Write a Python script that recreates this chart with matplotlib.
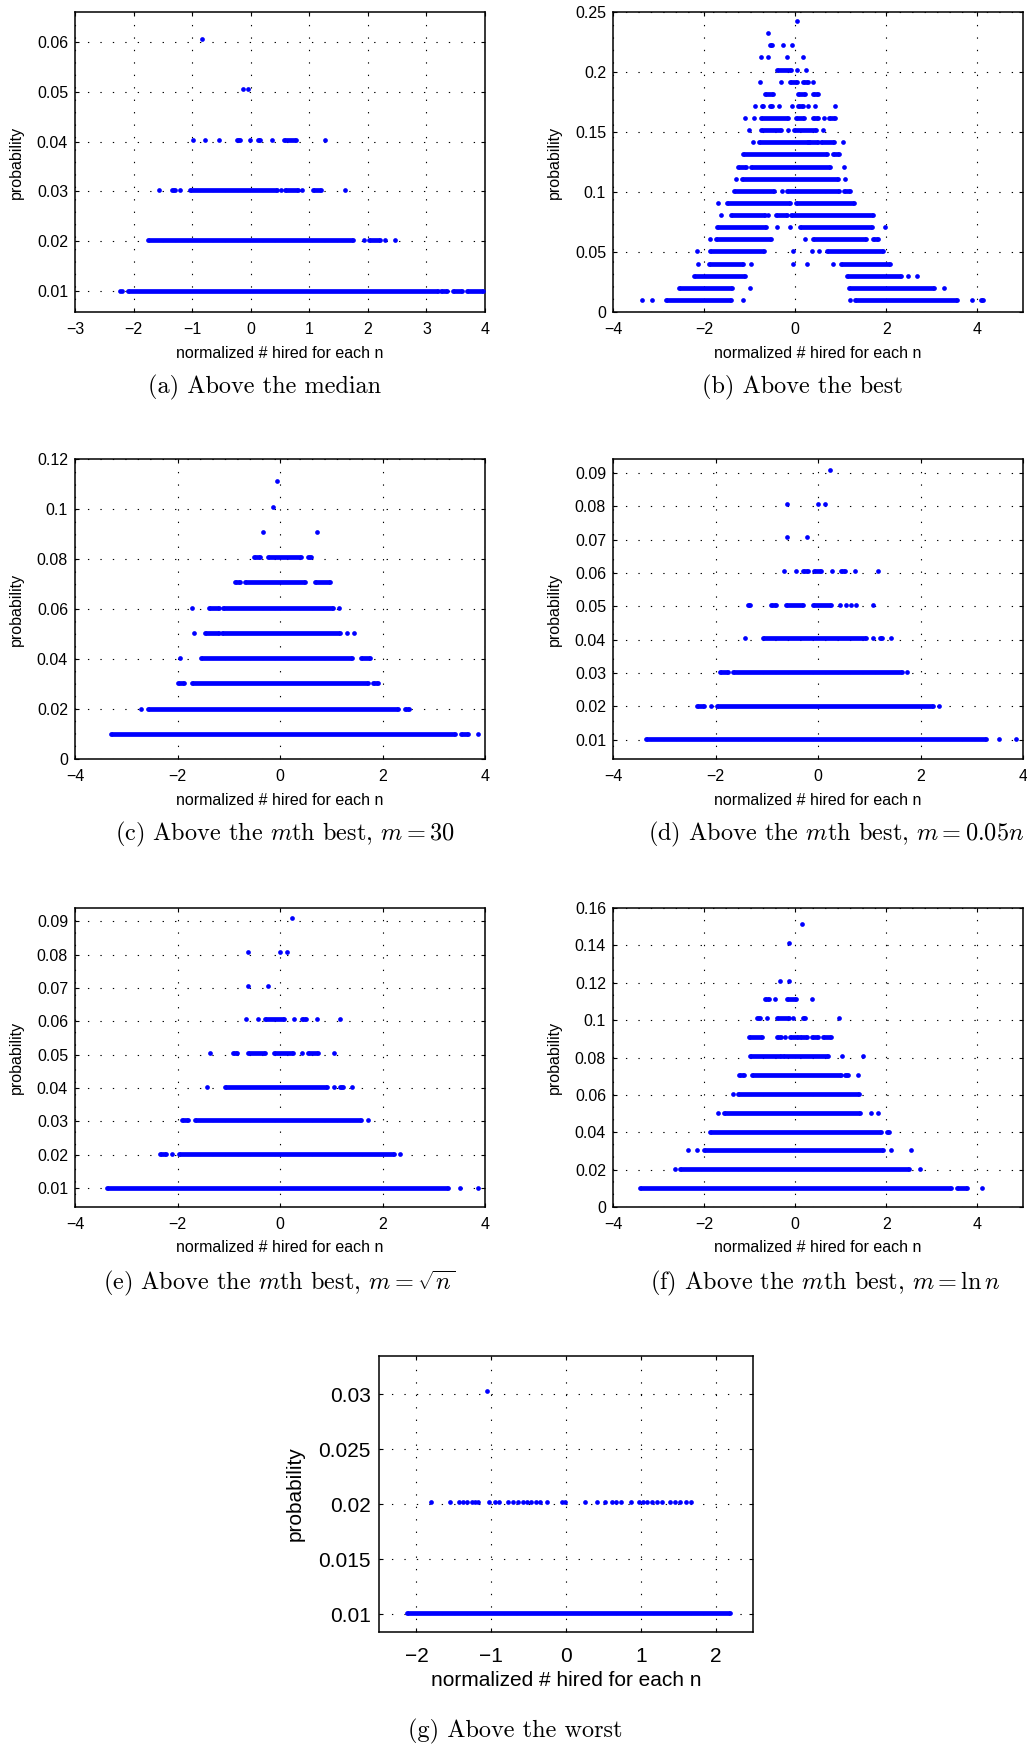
import matplotlib
matplotlib.use("Agg")
import matplotlib.pyplot as plt

plt.rcParams["mathtext.fontset"] = "cm"
plt.rcParams["font.family"] = ["Liberation Sans", "DejaVu Sans"]

BLUE = "#0000ff"
DOT_PT = 3.4          # dot diameter in points
FIG_W, FIG_H = 1027, 1744

# Each row: (probability, entries); an entry is a single x value or a
# (start, end) run of densely packed points at that probability.
median_rows = [
    (0.0101, [-2.24, -2.2, (-2.1, 3.2), (3.25, 3.35), (3.45, 3.6), (3.7, 3.97)]),
    (0.0202, [(-1.75, 1.75), 1.93, (2.02, 2.2), 2.3, 2.46]),
    (0.0303, [-1.56, (-1.35, -1.29), -1.2, (-1.03, 0.45), 0.52, (0.58, 0.8), 0.88,
              (1.07, 1.2), 1.61]),
    (0.0404, [-0.98, -0.775, -0.535, (-0.23, -0.18), -0.02, (0.13, 0.16), 0.37,
              (0.57, 0.78), 1.27]),
    (0.0505, [-0.125, -0.04]),
    (0.0606, [-0.83]),
]

best_rows = [
    (0.0101, [-3.36, -3.14, (-2.84, -1.41), -1.15, 1.21, (1.31, 3.55), 3.88, (4.07, 4.13)]),
    (0.0202, [(-2.56, -1.38), -0.99, (1.19, 3.04), 3.27]),
    (0.0303, [(-2.22, -1.11), (1.13, 2.32), 2.47, 2.67]),
    (0.0404, [-2.14, (-1.9, -1.14), -0.97, -0.04, 0.26, 0.84, (1.0, 2.07)]),
    (0.0505, [-2.15, (-1.88, -0.68), -0.04, 0.36, 0.53, (0.69, 1.92)]),
    (0.0606, [-1.88, (-1.74, -0.53), 0.22, (0.4, 1.55), (1.7, 1.81)]),
    (0.0707, [(-1.71, -0.65), -0.4, -0.11, (0.1, 1.68), 1.96]),
    (0.0808, [-1.63, (-1.41, -0.67), -0.59, (-0.42, -0.17), (-0.1, 1.7)]),
    (0.0909, [-1.69, (-1.5, -0.11), (0.02, 1.28)]),
    (0.1010, [(-1.34, -0.46), -0.29, (-0.17, 0.97), (1.08, 1.2)]),
    (0.1111, [-1.3, (-1.16, 0.93), 1.1]),
    (0.1212, [(-1.25, -1.08), (-0.97, 0.77), 1.08]),
    (0.1313, [(-1.15, 0.7), (0.84, 0.95)]),
    (0.1414, [-0.92, (-0.8, 0.27), (0.31, 0.49), (0.56, 0.86), 1.05]),
    (0.1515, [-1.01, (-0.75, -0.31), -0.15, (-0.02, 0.45), 0.6]),
    (0.1616, [-1.1, -0.9, (-0.75, -0.15), (0.01, 0.2), (0.39, 0.49), 0.64, (0.75, 0.87)]),
    (0.1717, [-0.89, (-0.72, -0.7), (-0.56, -0.5), -0.35, -0.07, (0.05, 0.18), 0.29,
              0.44, 0.87]),
    (0.1818, [(-0.67, -0.48), (0.06, 0.21), (0.38, 0.49)]),
    (0.1919, [-0.78, -0.31, (-0.12, 0.04), (0.17, 0.27), 0.4]),
    (0.2020, [(-0.39, -0.1), 0.04, 0.23]),
    (0.2121, [-0.75, -0.59, -0.17, 0.17]),
    (0.2222, [(-0.56, -0.5), -0.27, -0.07]),
    (0.2323, [-0.59]),
    (0.2424, [0.03]),
]

m30_rows = [
    (0.0101, [(-3.3, 3.41), (3.53, 3.66), 3.86]),
    (0.0202, [-2.71, (-2.57, 2.31), (2.44, 2.52)]),
    (0.0303, [(-2.0, -1.87), (-1.72, 1.71), (1.82, 1.92)]),
    (0.0404, [-1.96, (-1.55, 1.41), (1.58, 1.76)]),
    (0.0505, [-1.67, (-1.46, -1.2), (-1.14, 1.18), 1.31, 1.44]),
    (0.0606, [-1.72, (-1.39, -1.2), (-1.12, 1.04), 1.16]),
    (0.0707, [(-0.87, -0.79), (-0.68, 0.49), (0.68, 0.98)]),
    (0.0808, [(-0.51, -0.4), (-0.23, 0.41), (0.55, 0.6)]),
    (0.0909, [-0.33, 0.72]),
    (0.1010, [-0.14]),
    (0.1111, [-0.05]),
]

m5pct_rows = [
    (0.0101, [(-3.36, 3.28), 3.53, 3.87]),
    (0.0202, [(-2.36, -2.22), -2.09, (-1.98, 2.24), 2.36]),
    (0.0303, [(-1.92, -1.76), (-1.66, 1.63), 1.74]),
    (0.0404, [-1.42, (-1.07, 0.94), 1.07, (1.2, 1.24), 1.42]),
    (0.0505, [(-1.37, -1.33), (-0.91, -0.81), (-0.62, -0.29), (-0.1, 0.26), 0.42, 0.55,
              0.65, 0.75, 1.07]),
    (0.0606, [-0.66, -0.42, (-0.29, -0.2), (-0.07, 0.05), 0.28, (0.44, 0.52), 0.73, 1.18]),
    (0.0707, [-0.6, -0.21]),
    (0.0808, [-0.6, 0.0, 0.14]),
    (0.0909, [0.23]),
]

msqrt_rows = [
    (0.0101, [(-3.37, 3.27), 3.51, 3.86]),
    (0.0202, [(-2.35, -2.23), -2.11, (-1.98, 2.22), 2.35]),
    (0.0303, [(-1.92, -1.79), (-1.66, 1.59), 1.72]),
    (0.0404, [-1.42, (-1.07, 0.92), 1.06, (1.17, 1.22), 1.4]),
    (0.0505, [-1.37, (-0.92, -0.83), (-0.62, -0.29), (-0.12, 0.26), 0.42, (0.55, 0.75), 1.06]),
    (0.0606, [-0.67, -0.42, (-0.29, 0.07), 0.28, (0.42, 0.51), 0.73, 1.17]),
    (0.0707, [-0.62, -0.23]),
    (0.0808, [-0.62, 0.0, 0.13]),
    (0.0909, [0.23]),
]

mlog_rows = [
    (0.0101, [(-3.4, 3.41), (3.56, 3.76), 4.11]),
    (0.0202, [-2.65, (-2.52, 2.49), 2.74]),
    (0.0303, [-2.36, -2.15, (-2.01, 1.92), 2.1, 2.55]),
    (0.0404, [(-1.86, 1.88), (2.01, 2.05)]),
    (0.0505, [-1.69, (-1.57, 1.42), 1.67, 1.82]),
    (0.0606, [-1.37, (-1.25, 1.4)]),
    (0.0707, [(-1.23, -1.12), (-0.94, 1.0), (1.1, 1.15), 1.37]),
    (0.0808, [(-0.99, -0.31), (-0.26, 0.71), 1.02, 1.48]),
    (0.0909, [(-1.02, -0.74), (-0.41, -0.31), -0.23, (-0.11, 0.05), (0.11, 0.25),
              (0.36, 0.5), (0.6, 0.78)]),
    (0.1010, [(-0.84, -0.77), -0.61, (-0.41, -0.13), -0.04, (0.16, 0.21), 0.97]),
    (0.1111, [(-0.67, -0.57), -0.44, (-0.18, 0.01), 0.37]),
    (0.1212, [-0.34, -0.13]),
    (0.1414, [-0.13]),
    (0.1515, [0.146]),
]

worst_rows = [
    (0.0101, [(-2.12, 2.19)]),
    (0.0202, [-1.81, -1.545, -1.43, -1.376, -1.32, -1.26, -1.22, -1.17, -1.033, -0.953,
              -0.895, -0.775, -0.708, -0.641, -0.575, -0.521, -0.462, -0.405, -0.351,
              -0.25, -0.05, -0.02, 0.26, 0.41, 0.52, 0.615, 0.673, 0.74, 0.87, 0.972,
              1.03, 1.088, 1.15, 1.216, 1.283, 1.386, 1.452, 1.519, 1.608, 1.675]),
    (0.0303, [-1.06]),
]

captions = [
    "(a) Above the median",
    "(b) Above the best",
    "(c) Above the $m$th best, $m = 30$",
    "(d) Above the $m$th best, $m = 0.05n$",
    "(e) Above the $m$th best, $m = \\sqrt{n}$",
    "(f) Above the $m$th best, $m = \\ln n$",
    "(g) Above the worst",
]

# Axis settings per panel: x ticks, x limits, y ticks, y tick labels, y limits
panels = [
    dict(rows=median_rows, box=(75, 12, 485, 312),
         xticks=[-3, -2, -1, 0, 1, 2, 3, 4], xlim=(-3, 4),
         yticks=[0.01, 0.02, 0.03, 0.04, 0.05, 0.06],
         ylabels=["0.01", "0.02", "0.03", "0.04", "0.05", "0.06"], ylim=(0.0058, 0.066),
         cap=(265, 387)),
    dict(rows=best_rows, box=(613, 12, 1023, 312),
         xticks=[-4, -2, 0, 2, 4], xlim=(-4, 5),
         yticks=[0, 0.05, 0.1, 0.15, 0.2, 0.25],
         ylabels=["0", "0.05", "0.1", "0.15", "0.2", "0.25"], ylim=(0, 0.25),
         cap=(802, 387)),
    dict(rows=m30_rows, box=(75, 459, 485, 759),
         xticks=[-4, -2, 0, 2, 4], xlim=(-4, 4),
         yticks=[0, 0.02, 0.04, 0.06, 0.08, 0.1, 0.12],
         ylabels=["0", "0.02", "0.04", "0.06", "0.08", "0.1", "0.12"], ylim=(0, 0.12),
         cap=(285, 834)),
    dict(rows=m5pct_rows, box=(613, 459, 1023, 759),
         xticks=[-4, -2, 0, 2, 4], xlim=(-4, 4),
         yticks=[0.01, 0.02, 0.03, 0.04, 0.05, 0.06, 0.07, 0.08, 0.09],
         ylabels=["0.01", "0.02", "0.03", "0.04", "0.05", "0.06", "0.07", "0.08", "0.09"],
         ylim=(0.0042, 0.0942), cap=(836, 834)),
    dict(rows=msqrt_rows, box=(75, 908, 485, 1207),
         xticks=[-4, -2, 0, 2, 4], xlim=(-4, 4),
         yticks=[0.01, 0.02, 0.03, 0.04, 0.05, 0.06, 0.07, 0.08, 0.09],
         ylabels=["0.01", "0.02", "0.03", "0.04", "0.05", "0.06", "0.07", "0.08", "0.09"],
         ylim=(0.0043, 0.094), cap=(279, 1283)),
    dict(rows=mlog_rows, box=(613, 908, 1023, 1207),
         xticks=[-4, -2, 0, 2, 4], xlim=(-4, 5),
         yticks=[0, 0.02, 0.04, 0.06, 0.08, 0.1, 0.12, 0.14, 0.16],
         ylabels=["0", "0.02", "0.04", "0.06", "0.08", "0.1", "0.12", "0.14", "0.16"],
         ylim=(0, 0.16), cap=(825, 1283)),
    dict(rows=worst_rows, box=(379, 1356, 753, 1632),
         xticks=[-2, -1, 0, 1, 2], xlim=(-2.5, 2.5),
         yticks=[0.01, 0.015, 0.02, 0.025, 0.03],
         ylabels=["0.01", "0.015", "0.02", "0.025", "0.03"], ylim=(0.0084, 0.0335),
         cap=(515, 1731), big=True),
]


def draw_rows(ax, rows):
    for prob, entries in rows:
        dots = []
        for e in entries:
            if isinstance(e, tuple):
                ax.hlines(prob, e[0], e[1], colors=BLUE, linewidth=DOT_PT, zorder=3)
                dots.extend(e)
            else:
                dots.append(e)
        ax.scatter(dots, [prob] * len(dots), s=DOT_PT ** 2, c=BLUE,
                   linewidths=0, zorder=3)


fig = plt.figure(figsize=(FIG_W / 100, FIG_H / 100), dpi=100)

for p, cap in zip(panels, captions):
    x0, y0, x1, y1 = p["box"]
    ax = fig.add_axes([x0 / FIG_W, 1 - y1 / FIG_H, (x1 - x0) / FIG_W, (y1 - y0) / FIG_H])
    big = p.get("big", False)
    fs = 15 if big else 11.5

    draw_rows(ax, p["rows"])

    ax.set_xlim(*p["xlim"])
    ax.set_ylim(*p["ylim"])
    ax.set_xticks(p["xticks"])
    ax.set_xticklabels([str(t).replace("-", "\u2212") for t in p["xticks"]])
    ax.set_yticks(p["yticks"])
    ax.set_yticklabels(p["ylabels"])

    ax.set_axisbelow(True)
    ax.grid(True, color="black", linestyle=(0, (1.2, 10)), linewidth=0.8)
    ax.tick_params(direction="in", length=3, width=0.8, top=True, right=True,
                   labelsize=fs, colors="black")
    ax.tick_params(axis="x", pad=11 if big else 7.5)
    ax.tick_params(axis="y", pad=6 if big else 5)
    for s in ax.spines.values():
        s.set_linewidth(1.1)

    ax.set_xlabel("normalized # hired for each n", fontsize=fs)
    ax.set_ylabel("probability", fontsize=fs)
    ax.xaxis.label.set_va("center")
    ax.yaxis.label.set_va("center")
    ax.xaxis.set_label_coords(0.5, -0.175 if big else -0.137)
    ax.yaxis.set_label_coords(-0.225 if big else -0.144, 0.5)

    cx, cy = p["cap"]
    fig.text(cx / FIG_W, 1 - cy / FIG_H, cap, ha="center", va="center",
             fontsize=17.5, family="cmr10")

fig.savefig("out.png", dpi=100)
